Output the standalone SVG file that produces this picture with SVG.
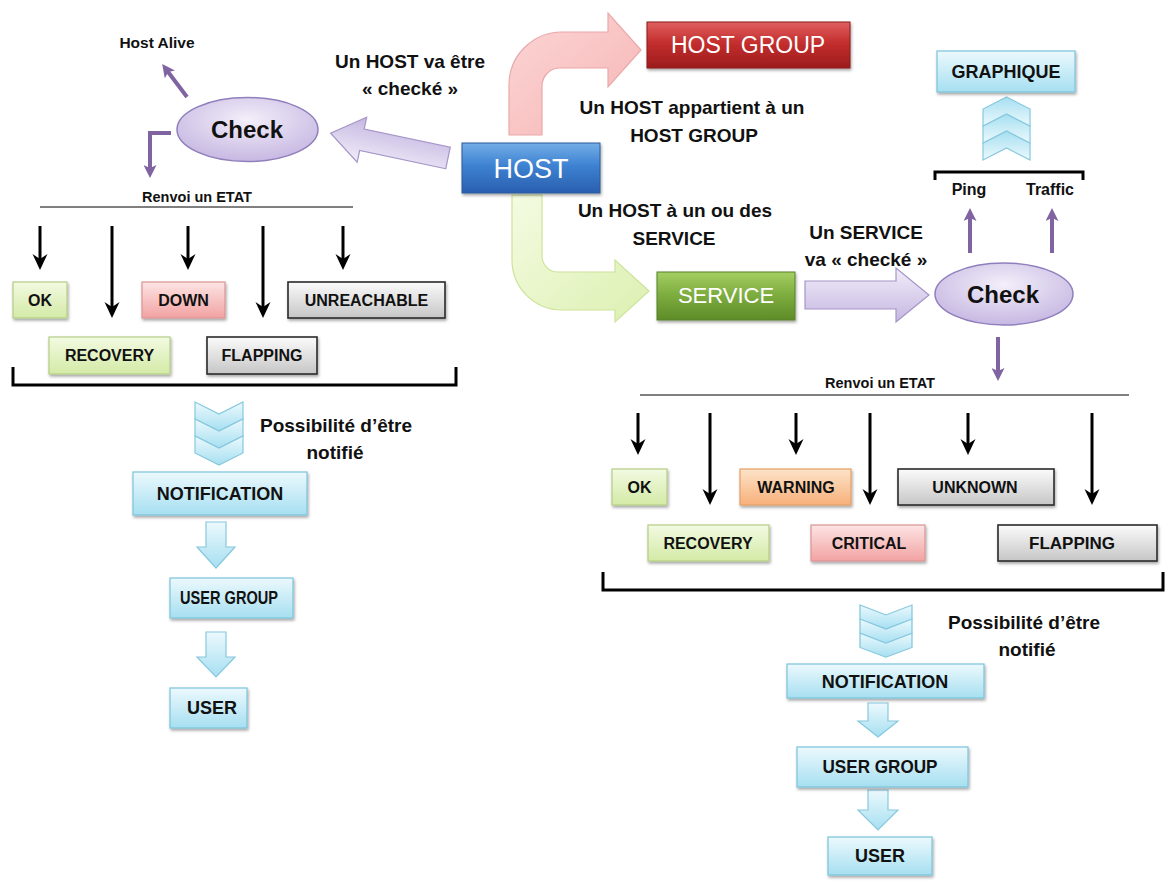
<svg xmlns="http://www.w3.org/2000/svg" width="1171" height="886" viewBox="0 0 1171 886">
<style>
.t{font-family:"Liberation Sans",Arial,sans-serif;font-weight:bold;fill:#111;text-anchor:middle}
.big{font-size:19px}
.st{font-size:16px}
.lbl{font-size:18px}
.w{fill:#fff;font-weight:normal}
.blk{stroke:#000;stroke-width:3;fill:none;marker-end:url(#mBlk)}
.pur{stroke:#8064a2;stroke-width:4;fill:none;marker-end:url(#mPur)}
.br{stroke:#000;stroke-width:3;fill:none}
.thin{stroke:#000;stroke-width:1;fill:none}
.bxG{fill:url(#gLGreen);stroke:#b5cd86;stroke-width:1.2}
.bxP{fill:url(#gPink);stroke:#d99595;stroke-width:1.2}
.bxY{fill:url(#gGray);stroke:#2a2a2a;stroke-width:1.6}
.bxO{fill:url(#gOrange);stroke:#e5a066;stroke-width:1.2}
.bxC{fill:url(#gCyan);stroke:#7cc3da;stroke-width:1.2}
.chev{fill:url(#gCyan);stroke:#86c8de;stroke-width:1.2}
.parr{fill:url(#gPurple);stroke:#a595c8;stroke-width:1.2}
.barr{fill:url(#gCyan);stroke:#86c8de;stroke-width:1.2}
</style>
<defs>
<linearGradient id="gBlue" x1="0" y1="0" x2="0" y2="1"><stop offset="0" stop-color="#74aee6"/><stop offset="0.45" stop-color="#3d82d2"/><stop offset="1" stop-color="#2a5fae"/></linearGradient>
<linearGradient id="gRed" x1="0" y1="0" x2="0" y2="1"><stop offset="0" stop-color="#e06060"/><stop offset="0.45" stop-color="#c42e2e"/><stop offset="1" stop-color="#9c1c1c"/></linearGradient>
<linearGradient id="gGreenD" x1="0" y1="0" x2="0" y2="1"><stop offset="0" stop-color="#a5cf62"/><stop offset="0.45" stop-color="#7fae40"/><stop offset="1" stop-color="#5e8c28"/></linearGradient>
<linearGradient id="gLGreen" x1="0" y1="0" x2="0" y2="1"><stop offset="0" stop-color="#f3faE2"/><stop offset="1" stop-color="#d3eaa6"/></linearGradient>
<linearGradient id="gPink" x1="0" y1="0" x2="0" y2="1"><stop offset="0" stop-color="#fde4e4"/><stop offset="1" stop-color="#f2a2a2"/></linearGradient>
<linearGradient id="gGray" x1="0" y1="0" x2="0" y2="1"><stop offset="0" stop-color="#fbfbfb"/><stop offset="1" stop-color="#c6c6c6"/></linearGradient>
<linearGradient id="gOrange" x1="0" y1="0" x2="0" y2="1"><stop offset="0" stop-color="#fde3c9"/><stop offset="1" stop-color="#f7b07a"/></linearGradient>
<linearGradient id="gCyan" x1="0" y1="0" x2="0" y2="1"><stop offset="0" stop-color="#ecf9fd"/><stop offset="1" stop-color="#a6dff1"/></linearGradient>
<linearGradient id="gPurple" x1="0" y1="0" x2="0" y2="1"><stop offset="0" stop-color="#f1edf9"/><stop offset="1" stop-color="#c5b7e1"/></linearGradient>
<linearGradient id="gPinkA" x1="0" y1="0" x2="1" y2="1"><stop offset="0" stop-color="#fcd6d6"/><stop offset="1" stop-color="#f6b4b4"/></linearGradient>
<linearGradient id="gGreenA" x1="0" y1="0" x2="1" y2="1"><stop offset="0" stop-color="#f4fbe2"/><stop offset="1" stop-color="#dcf0b0"/></linearGradient>
<radialGradient id="gEll" cx="0.5" cy="0.35" r="0.7"><stop offset="0" stop-color="#f3effa"/><stop offset="1" stop-color="#c3b3e0"/></radialGradient>
<filter id="sh" x="-10%" y="-10%" width="130%" height="140%"><feDropShadow dx="1" dy="2" stdDeviation="1.5" flood-opacity="0.35"/></filter>
<marker id="mBlk" viewBox="0 0 16 16" refX="6" refY="8" markerWidth="16" markerHeight="16" markerUnits="userSpaceOnUse" orient="auto"><path d="M0,0.5 L16,8 L0,15.5 L5,8 Z" fill="#000"/></marker>
<marker id="mPur" viewBox="0 0 13 13" refX="5" refY="6.5" markerWidth="13" markerHeight="13" markerUnits="userSpaceOnUse" orient="auto"><path d="M0,0 L13,6.5 L0,13 L3,6.5 Z" fill="#8064a2"/></marker>
<path id="chevD" d="M0,0 L24,12 L48,0 L48,17 L24,29 L0,17 Z"/>
</defs>

<g id="connectors">
  <!-- pink curved arrow HOST -> HOST GROUP -->
  <path d="M509,135 V85 A53,53 0 0 1 562,32 H608 V13 L641,50 L608,87 V68 H560 A18,18 0 0 0 542,86 V135 Z" fill="url(#gPinkA)" stroke="#eaa8a8" stroke-width="1.2"/>
  <!-- green curved arrow HOST -> SERVICE -->
  <path d="M512,195 V260 A50,50 0 0 0 562,310 H615 V322 L649,291 L615,260 V272 H558 A16,16 0 0 1 542,256 V195 Z" fill="url(#gGreenA)" stroke="#cde39a" stroke-width="1.2"/>
  <!-- purple arrow HOST -> Check -->
  <path transform="translate(448,158) rotate(191.96)" d="M0,-11 L88,-11 L88,-23 L120,0 L88,23 L88,11 L0,11 Z" class="parr"/>
  <!-- purple arrow SERVICE -> Check -->
  <path d="M805,281 H896 V268 L929,295 L896,322 V309 H805 Z" class="parr"/>
  <!-- small purple arrows -->
  <line x1="187" y1="97" x2="167" y2="70.5" class="pur"/>
  <path d="M171,133 H150 V170" class="pur"/>
  <line x1="970" y1="253" x2="970" y2="216" class="pur"/>
  <line x1="1052" y1="253" x2="1052" y2="216" class="pur"/>
  <line x1="998" y1="337" x2="998" y2="373" class="pur"/>
  <!-- left state arrows -->
  <line x1="40" y1="226" x2="40" y2="260" class="blk"/>
  <line x1="112" y1="226" x2="112" y2="308" class="blk"/>
  <line x1="188" y1="226" x2="188" y2="260" class="blk"/>
  <line x1="263" y1="226" x2="263" y2="308" class="blk"/>
  <line x1="343" y1="226" x2="343" y2="260" class="blk"/>
  <!-- right state arrows -->
  <line x1="638" y1="413" x2="638" y2="445" class="blk"/>
  <line x1="710" y1="413" x2="710" y2="495" class="blk"/>
  <line x1="796" y1="413" x2="796" y2="445" class="blk"/>
  <line x1="870" y1="413" x2="870" y2="495" class="blk"/>
  <line x1="968" y1="413" x2="968" y2="445" class="blk"/>
  <line x1="1092" y1="413" x2="1092" y2="495" class="blk"/>
  <!-- lines and brackets -->
  <path d="M40,207 H353" class="thin"/>
  <path d="M640,395 H1129" class="thin"/>
  <path d="M13,367 V385 H456 V367" class="br"/>
  <path d="M603,572 V590 H1163 V572" class="br"/>
  <path d="M935,180 V172 H1083 V180" class="br"/>
  <!-- chevrons -->
  <g transform="translate(195,402)">
    <use href="#chevD" class="chev"/>
    <use href="#chevD" y="17" class="chev"/>
    <use href="#chevD" y="34" class="chev"/>
  </g>
  <g transform="translate(860,605) scale(1.083,0.83)">
    <use href="#chevD" class="chev"/>
    <use href="#chevD" y="17" class="chev"/>
    <use href="#chevD" y="34" class="chev"/>
  </g>
  <g transform="translate(983,160) scale(0.98,-1)">
    <use href="#chevD" class="chev"/>
    <use href="#chevD" y="17" class="chev"/>
    <use href="#chevD" y="34" class="chev"/>
  </g>
  <!-- light blue block arrows -->
  <path d="M206,522 H226 V547 H235 L216,568 L197,547 H206 Z" class="barr"/>
  <path d="M206,632 H226 V657 H235 L216,677 L197,657 H206 Z" class="barr"/>
  <path d="M868,703 H888 V721 H898 L878,737 L858,721 H868 Z" class="barr"/>
  <path d="M868,790 H888 V810 H898 L878,830 L858,810 H868 Z" class="barr"/>
</g>

<g id="host">
  <rect x="462" y="143" width="138" height="50" fill="url(#gBlue)" stroke="#2b5a9c" stroke-width="1" filter="url(#sh)"/>
  <text x="531" y="178" class="t w" style="font-size:27px">HOST</text>
</g>
<g id="hostgroup">
  <rect x="647" y="22" width="203" height="46" fill="url(#gRed)" stroke="#8a1a1a" stroke-width="1" filter="url(#sh)"/>
  <text x="748" y="53" class="t w" style="font-size:23px">HOST GROUP</text>
</g>
<g id="service">
  <rect x="657" y="272" width="138" height="48" fill="url(#gGreenD)" stroke="#57822a" stroke-width="1" filter="url(#sh)"/>
  <text x="726" y="303" class="t w" style="font-size:22px">SERVICE</text>
</g>

<g id="labels">
  <text x="410" y="68" class="t big">Un HOST va être</text>
  <text x="410" y="95" class="t big">« checké »</text>
  <text x="692" y="114" class="t big">Un HOST appartient à un</text>
  <text x="694" y="142" class="t big">HOST GROUP</text>
  <text x="675" y="217" class="t big">Un HOST à un ou des</text>
  <text x="674" y="245" class="t big">SERVICE</text>
  <text x="866" y="239" class="t big">Un SERVICE</text>
  <text x="866" y="266" class="t big">va « checké »</text>
  <text x="157" y="48" class="t" style="font-size:15.5px">Host Alive</text>
  <text x="197" y="202" class="t" style="font-size:14.5px">Renvoi un ETAT</text>
  <text x="880" y="388" class="t" style="font-size:14.5px">Renvoi un ETAT</text>
  <text x="969" y="195" class="t" style="font-size:16px">Ping</text>
  <text x="1050" y="195" class="t" style="font-size:16px">Traffic</text>
  <text x="336" y="432" class="t big">Possibilité d’être</text>
  <text x="335" y="459" class="t big">notifié</text>
  <text x="1024" y="629" class="t big">Possibilité d’être</text>
  <text x="1027" y="656" class="t big">notifié</text>
</g>

<g id="check-left">
  <ellipse cx="247.5" cy="129.5" rx="70.5" ry="32" fill="url(#gEll)" stroke="#8f7fbc" stroke-width="1.5"/>
  <text x="247" y="138" class="t" style="font-size:24px">Check</text>
</g>
<g id="check-right">
  <ellipse cx="1004" cy="294" rx="69" ry="31" fill="url(#gEll)" stroke="#8f7fbc" stroke-width="1.5"/>
  <text x="1003" y="303" class="t" style="font-size:24px">Check</text>
</g>
<g id="graphique">
  <rect x="937" y="51" width="138" height="41" class="bxC" filter="url(#sh)"/>
  <text x="1006" y="78" class="t lbl">GRAPHIQUE</text>
</g>

<g id="h-ok"><rect x="13" y="282" width="54" height="36" class="bxG" filter="url(#sh)"/><text x="40" y="306" class="t st">OK</text></g>
<g id="h-down"><rect x="142" y="282" width="83" height="36" class="bxP" filter="url(#sh)"/><text x="183.5" y="306" class="t st">DOWN</text></g>
<g id="h-unreachable"><rect x="288" y="282" width="157" height="36" class="bxY" filter="url(#sh)"/><text x="366.5" y="306" class="t st">UNREACHABLE</text></g>
<g id="h-recovery"><rect x="49" y="337" width="121" height="37" class="bxG" filter="url(#sh)"/><text x="109.5" y="361" class="t st">RECOVERY</text></g>
<g id="h-flapping"><rect x="207" y="337" width="110" height="37" class="bxY" filter="url(#sh)"/><text x="262" y="361" class="t st">FLAPPING</text></g>

<g id="s-ok"><rect x="612" y="469" width="55" height="36" class="bxG" filter="url(#sh)"/><text x="639.5" y="493" class="t st">OK</text></g>
<g id="s-warning"><rect x="740" y="469" width="111" height="36" class="bxO" filter="url(#sh)"/><text x="796" y="493" class="t st">WARNING</text></g>
<g id="s-unknown"><rect x="898" y="469" width="156" height="36" class="bxY" filter="url(#sh)"/><text x="975" y="493" class="t st">UNKNOWN</text></g>
<g id="s-recovery"><rect x="648" y="525" width="121" height="36" class="bxG" filter="url(#sh)"/><text x="708" y="549" class="t st">RECOVERY</text></g>
<g id="s-critical"><rect x="811" y="525" width="114" height="36" class="bxP" filter="url(#sh)"/><text x="869" y="549" class="t st">CRITICAL</text></g>
<g id="s-flapping"><rect x="998" y="525" width="159" height="36" class="bxY" filter="url(#sh)"/><text x="1072" y="549" class="t" style="font-size:17px">FLAPPING</text></g>

<g id="h-notification"><rect x="133" y="472" width="174" height="43" class="bxC" filter="url(#sh)"/><text x="220" y="500" class="t lbl">NOTIFICATION</text></g>
<g id="h-usergroup"><rect x="170" y="578" width="123" height="40" class="bxC" filter="url(#sh)"/><text x="229" y="604" class="t lbl" textLength="98" lengthAdjust="spacingAndGlyphs">USER GROUP</text></g>
<g id="h-user"><rect x="170" y="688" width="77" height="40" class="bxC" filter="url(#sh)"/><text x="212" y="714" class="t lbl">USER</text></g>

<g id="s-notification"><rect x="787" y="664" width="197" height="34" class="bxC" filter="url(#sh)"/><text x="885" y="688" class="t lbl">NOTIFICATION</text></g>
<g id="s-usergroup"><rect x="797" y="747" width="171" height="40" class="bxC" filter="url(#sh)"/><text x="880" y="773" class="t lbl" textLength="115" lengthAdjust="spacingAndGlyphs">USER GROUP</text></g>
<g id="s-user"><rect x="828" y="837" width="104" height="38" class="bxC" filter="url(#sh)"/><text x="880" y="862" class="t lbl">USER</text></g>
</svg>
